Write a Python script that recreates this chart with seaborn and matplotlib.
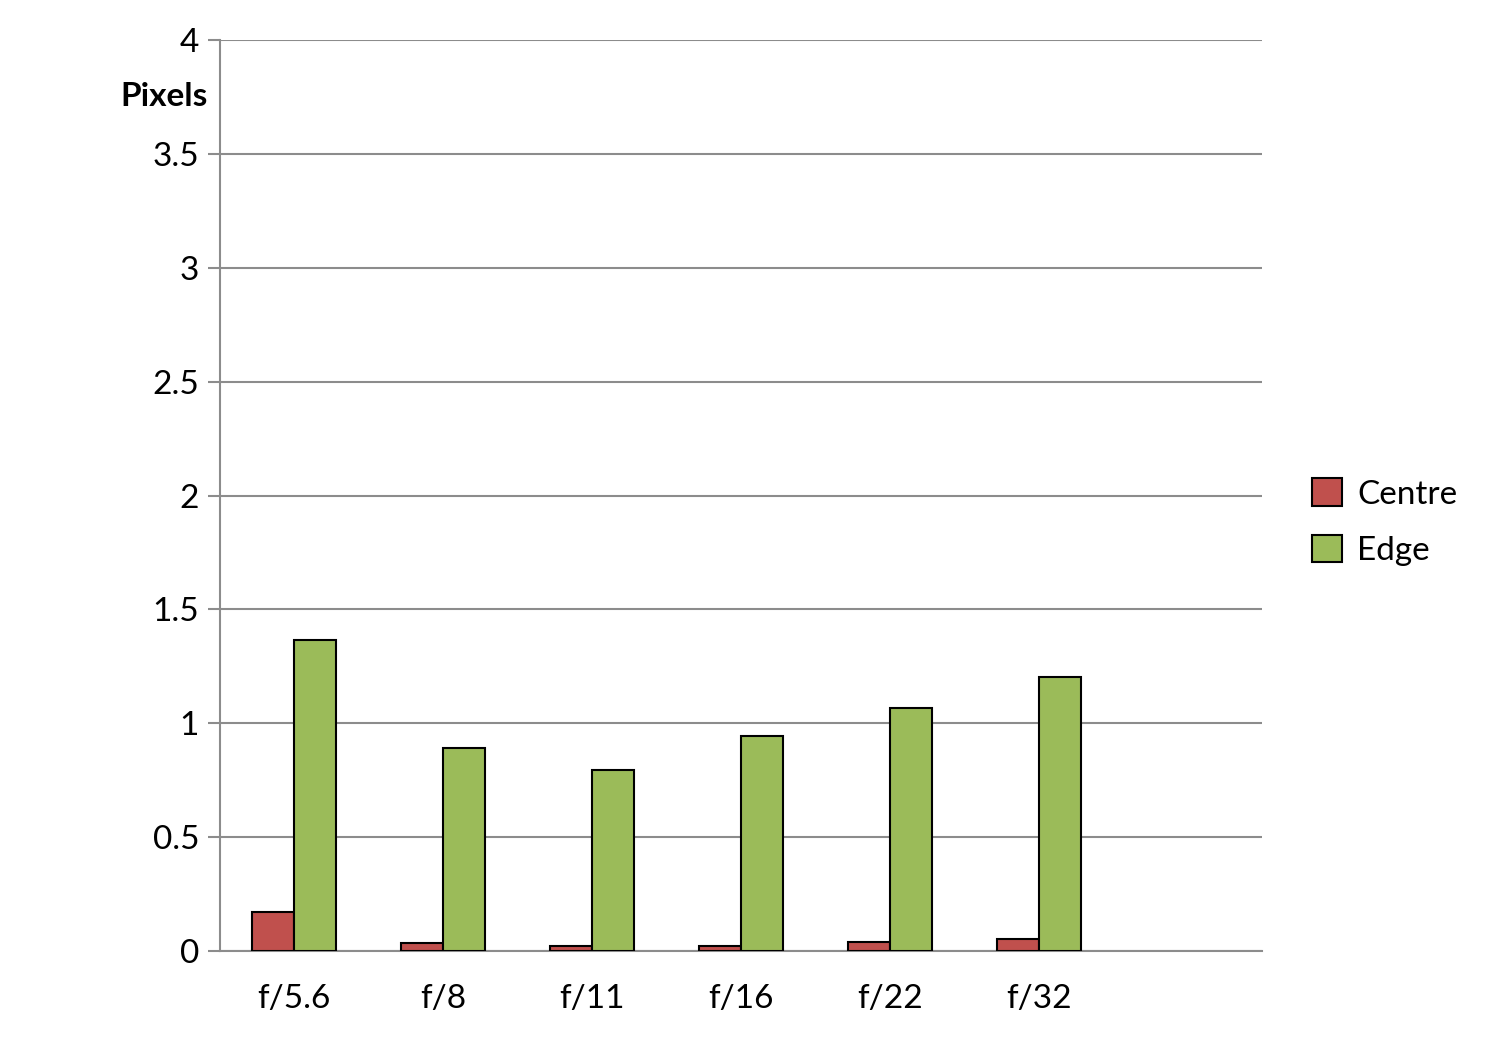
import pandas as pd
import matplotlib

matplotlib.use('Agg')
import matplotlib.pyplot as plt
import seaborn as sns
from matplotlib.patches import Patch

# values
apertures = ['f/5.6', 'f/8', 'f/11', 'f/16', 'f/22', 'f/32']
centre = [0.17, 0.035, 0.022, 0.022, 0.04, 0.053]
edge = [1.366, 0.891, 0.795, 0.944, 1.067, 1.203]
y_ticks = [0, 0.5, 1, 1.5, 2, 2.5, 3, 3.5, 4]
y_labels = ['0', '0.5', '1', '1.5', '2', '2.5', '3', '3.5', '4']

df = pd.DataFrame({
    'aperture': apertures * 2,
    'series': ['Centre'] * len(apertures) + ['Edge'] * len(apertures),
    'value': centre + edge,
})

sns.set_style('white')
plt.rcParams['font.family'] = ['Lato', 'DejaVu Sans']
plt.rcParams['text.color'] = 'black'
plt.rcParams['xtick.labelcolor'] = 'black'
plt.rcParams['ytick.labelcolor'] = 'black'

colors = {'Centre': '#C0504D', 'Edge': '#9BBB59'}

fig = plt.figure(figsize=(15, 10.5), dpi=100)
ax = fig.add_axes([220 / 1500, 99 / 1050, 1042 / 1500, 911 / 1050])

sns.barplot(data=df, x='aperture', y='value', hue='series', order=apertures,
            palette=colors, width=0.565, edgecolor='black', linewidth=1.5,
            saturation=1, legend=False, ax=ax, zorder=3)

# seven category slots, the last one is empty
ax.set_xlim(-0.5, 6.5)
ax.set_ylim(0, 4)

ax.set_yticks(y_ticks)
ax.set_yticklabels(y_labels, fontsize=24)
ax.yaxis.grid(True, color='#8c8c8c', linewidth=1.5, zorder=0)
ax.xaxis.grid(False)

ax.set_xticks(range(len(apertures)))
ax.set_xticklabels(apertures, fontsize=24)
ax.set_xticks([i - 0.5 for i in range(8)], minor=True)
ax.tick_params(axis='x', which='major', length=0, pad=24)
ax.tick_params(axis='x', which='minor', length=10, width=1.5, color='#8c8c8c', direction='out')
ax.tick_params(axis='y', which='major', length=9, width=1.5, color='#8c8c8c',
               direction='out', left=True, pad=6)

for side in ['top', 'right']:
    ax.spines[side].set_visible(False)
for side in ['left', 'bottom']:
    ax.spines[side].set_color('#8c8c8c')
    ax.spines[side].set_linewidth(1.5)

ax.set_xlabel('')
ax.set_ylabel('')
ax.text(-0.012, 3.75, 'Pixels', transform=ax.get_yaxis_transform(), ha='right', va='center',
        fontsize=24, fontweight='bold')

handles = [Patch(facecolor=colors[s], edgecolor='black', linewidth=1.5, label=s)
           for s in ['Centre', 'Edge']]
fig.legend(handles=handles, loc='center left', bbox_to_anchor=(1282 / 1500, 1 - 522 / 1050),
           frameon=False, fontsize=24, handlelength=0.9, handleheight=0.9,
           handletextpad=0.45, labelspacing=0.75)

plt.savefig('out.png', dpi=100)
